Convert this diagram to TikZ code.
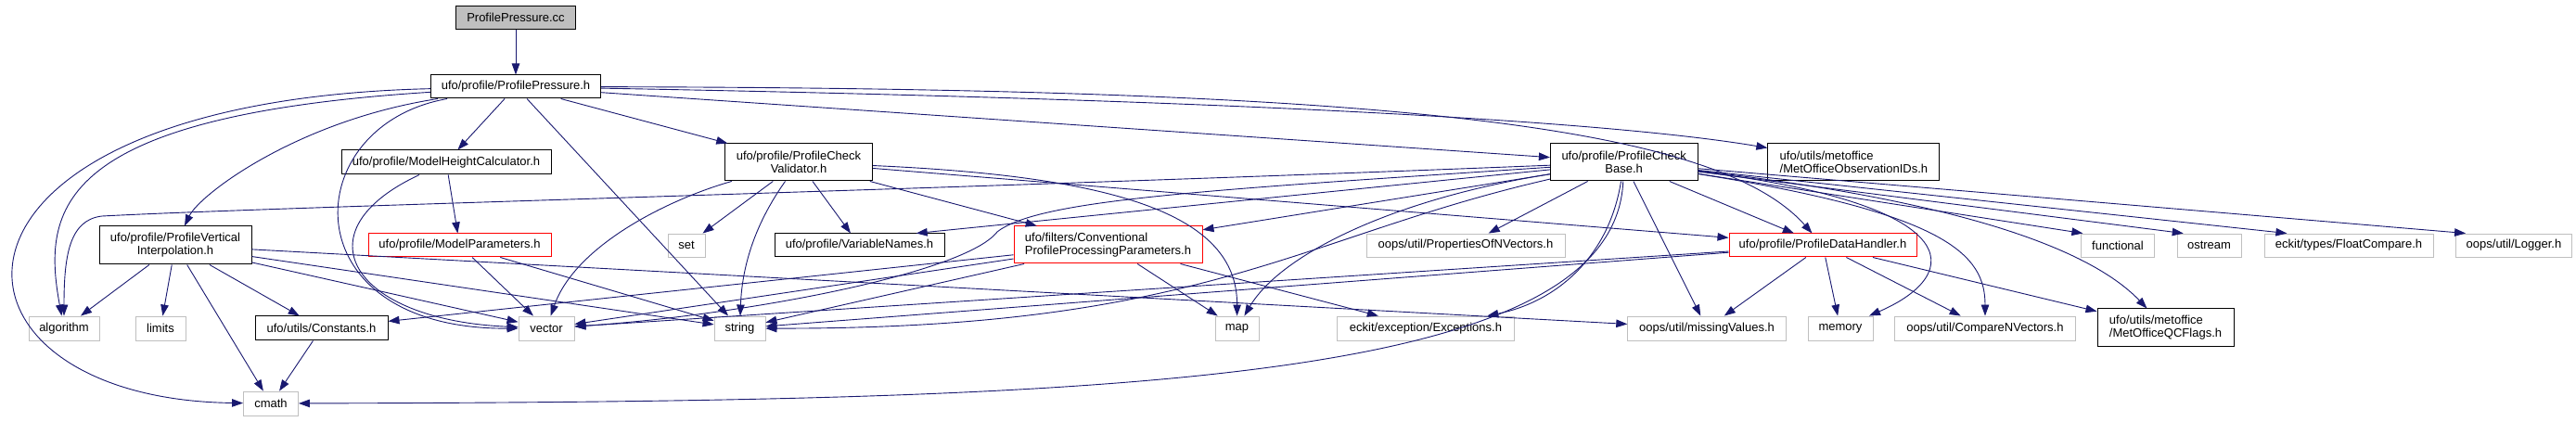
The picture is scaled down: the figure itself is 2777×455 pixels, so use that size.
\documentclass[tikz,border=0pt]{standalone}
\usepackage{fontspec}
\setmainfont{Liberation Sans}
\usetikzlibrary{arrows.meta}
\definecolor{edgeBlue}{HTML}{191970}
\definecolor{boxGray}{HTML}{BFBFBF}
\tikzstyle{hBox} = [draw,rectangle,inner sep=0pt,minimum height=25pt,font=\fontsize{13}{14}\selectfont,align=center]
\tikzstyle{docBox} = [hBox,draw=black,line width=1pt]
\tikzstyle{extBox} = [hBox,draw=boxGray,line width=0.9pt]
\tikzstyle{redBox} = [hBox,draw=red,line width=1pt]
\tikzstyle{rootBox} = [docBox,fill=boxGray]
\tikzstyle{inc} = [draw=edgeBlue,line width=0.9pt,-{Triangle[length=12pt,width=8.5pt]}]

\begin{document}
\begin{tikzpicture}[x=1pt,y=1pt]
			\useasboundingbox (0,0) rectangle (2777,455);
			\node[rootBox,minimum width=129.5pt] (cc) at (556,436) {ProfilePressure.cc};
			\node[docBox,minimum width=183pt] (pph) at (556,361.5) {ufo/profile/ProfilePressure.h};
			\node[docBox,minimum width=226pt,minimum height=26pt] (mhc) at (481,280) {ufo/profile/ModelHeightCalculator.h};
			\node[docBox,minimum width=159pt,minimum height=40pt] (pcv) at (861,280) {ufo/profile/ProfileCheck\\Validator.h};
			\node[docBox,minimum width=158.6pt,minimum height=40pt] (pcb) at (1750.7,280) {ufo/profile/ProfileCheck\\Base.h};
			\node[docBox,minimum width=185pt,minimum height=40pt,align=left] (moid) at (1998.4,280) {ufo/utils/metoffice\\/MetOfficeObservationIDs.h};
			\node[docBox,minimum width=164pt,minimum height=41pt] (pvi) at (189,190.5) {ufo/profile/ProfileVertical\\Interpolation.h};
			\node[redBox,minimum width=197pt] (mp) at (495.5,190.5) {ufo/profile/ModelParameters.h};
			\node[extBox,minimum width=40pt] (set) at (740,190.5) {set};
			\node[docBox,minimum width=183pt] (vn) at (926.5,190.5) {ufo/profile/VariableNames.h};
			\node[redBox,minimum width=203pt,minimum height=40pt,align=left] (cppp) at (1194.5,191) {ufo/filters/Conventional\\ProfileProcessingParameters.h};
			\node[extBox,minimum width=214pt] (pnv) at (1580,190.5) {oops/util/PropertiesOfNVectors.h};
			\node[redBox,minimum width=202pt] (pdh) at (1965,190.5) {ufo/profile/ProfileDataHandler.h};
			\node[extBox,minimum width=79.5pt] (func) at (2283,190.5) {functional};
			\node[extBox,minimum width=69pt] (ostr) at (2381.5,190.5) {ostream};
			\node[extBox,minimum width=182pt] (fc) at (2532,190.5) {eckit/types/FloatCompare.h};
			\node[extBox,minimum width=124.5pt] (log) at (2710,190.5) {oops/util/Logger.h};
			\node[extBox,minimum width=76pt,minimum height=26pt] (alg) at (69,101) {algorithm};
			\node[extBox,minimum width=54pt,minimum height=26pt] (lim) at (173,101) {limits};
			\node[docBox,minimum width=143pt,minimum height=26pt] (const) at (346.5,101) {ufo/utils/Constants.h};
			\node[extBox,minimum width=60pt,minimum height=26pt] (vec) at (589,101) {vector};
			\node[extBox,minimum width=55pt,minimum height=26pt] (str) at (797.5,101) {string};
			\node[extBox,minimum width=47pt,minimum height=26pt] (map) at (1333.5,101) {map};
			\node[extBox,minimum width=191.5pt,minimum height=26pt] (exc) at (1537,101) {eckit/exception/Exceptions.h};
			\node[extBox,minimum width=170.5pt,minimum height=26pt] (mv) at (1840,101) {oops/util/missingValues.h};
			\node[extBox,minimum width=70pt,minimum height=26pt] (mem) at (1984,101) {memory};
			\node[extBox,minimum width=195.5pt,minimum height=26pt] (cnv) at (2140,101) {oops/util/CompareNVectors.h};
			\node[docBox,minimum width=147pt,minimum height=41pt,align=left] (mqc) at (2334.5,101.5) {ufo/utils/metoffice\\/MetOfficeQCFlags.h};
			\node[extBox,minimum width=59pt,minimum height=26pt] (cmath) at (292,20) {cmath};
			
			\draw[inc] (cc) -- (pph);
			\draw[inc] (pph) .. controls (-105,346) and (-88,25) .. (cmath);
			\draw[inc] (pph) .. controls (60,330) and (45,230) .. (alg);
			\draw[inc] (pph) .. controls (320,325) and (215,245) .. (pvi);
			\draw[inc] (pph) .. controls (320,320) and (310,100) .. (vec);
			\draw[inc] (pph) -- (mhc);
			\draw[inc] (pph) -- (str);
			\draw[inc] (pph) -- (pcv);
			\draw[inc] (pph) -- (pcb);
			\draw[inc] (pph) .. controls (1200,350) and (1700,330) .. (moid);
			\draw[inc] (pph) .. controls (1500,360) and (1850,320) .. (pdh);
			\draw[inc] (mhc) -- (mp);
			\draw[inc] (mhc) .. controls (320,205) and (380,110) .. (vec);
			\draw[inc] (mp) -- (vec);
			\draw[inc] (mp) -- (str);
			\draw[inc] (pvi) -- (alg);
			\draw[inc] (pvi) -- (lim);
			\draw[inc] (pvi) -- (cmath);
			\draw[inc] (pvi) -- (const);
			\draw[inc] (pvi) -- (vec);
			\draw[inc] (pvi) -- (str);
			\draw[inc] (pvi) -- (mv);
			\draw[inc] (const) -- (cmath);
			\draw[inc] (pcv) .. controls (720,240) and (620,190) .. (vec);
			\draw[inc] (pcv) -- (set);
			\draw[inc] (pcv) .. controls (815,215) and (800,170) .. (str);
			\draw[inc] (pcv) -- (vn);
			\draw[inc] (pcv) -- (cppp);
			\draw[inc] (pcv) .. controls (1200,265) and (1334,225) .. (map);
			\draw[inc] (pcv) -- (pdh);
			\draw[inc] (cppp) -- (const);
			\draw[inc] (cppp) -- (vec);
			\draw[inc] (cppp) -- (str);
			\draw[inc] (cppp) -- (map);
			\draw[inc] (cppp) -- (exc);
			\draw[inc] (pcb) .. controls (1000,250) and (300,232) .. (110,222) .. controls (75,218) and (69,180) .. (alg);
			\draw[inc] (pcb) -- (vn.12);
			\draw[inc] (pcb) -- (cppp);
			\draw[inc] (pcb) .. controls (1400,200) and (1300,100) .. (str);
			\draw[inc] (pcb) .. controls (1300,250) and (1120,240) .. (1075,205) .. controls (1040,160) and (800,115) .. (vec);
			\draw[inc] (pcb) .. controls (1500,240) and (1380,180) .. (map);
			\draw[inc] (pcb) -- (pnv);
			\draw[inc] (pcb) .. controls (1735,180) and (1680,130) .. (exc);
			\draw[inc] (pcb) .. controls (1740,40) and (1200,22) .. (cmath);
			\draw[inc] (pcb) -- (mv);
			\draw[inc] (pcb) -- (pdh);
			\draw[inc] (pcb) .. controls (2120,235) and (2120,160) .. (mem);
			\draw[inc] (pcb) .. controls (2100,225) and (2140,180) .. (cnv);
			\draw[inc] (pcb) .. controls (2100,240) and (2250,190) .. (mqc);
			\draw[inc] (pcb) -- (func.161);
			\draw[inc] (pcb) -- (ostr.155);
			\draw[inc] (pcb) -- (fc.169);
			\draw[inc] (pcb) -- (log.166);
			\draw[inc] (pdh) -- (vec);
			\draw[inc] (pdh) -- (str);
			\draw[inc] (pdh) -- (mv);
			\draw[inc] (pdh) -- (mem);
			\draw[inc] (pdh) -- (cnv);
			\draw[inc] (pdh) -- (mqc);
			
		\end{tikzpicture}
\end{document}
